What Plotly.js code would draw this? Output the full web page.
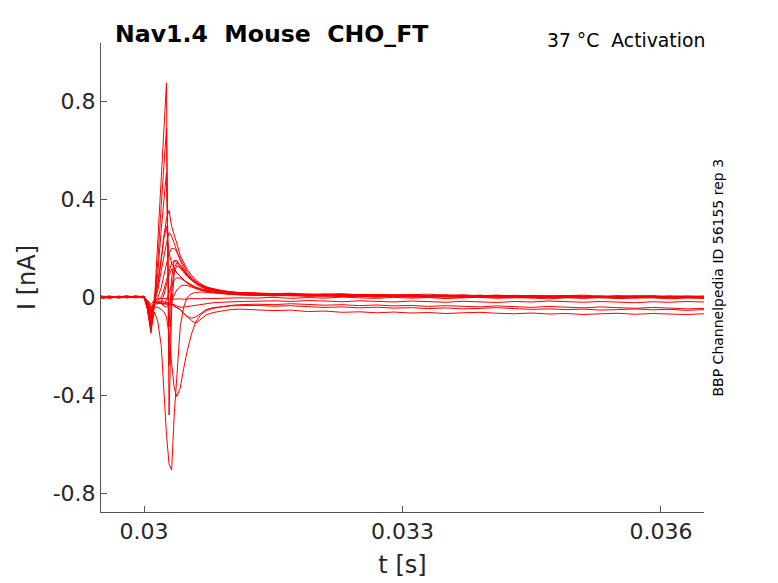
<!DOCTYPE html>
<html>
<head>
<meta charset="utf-8">
<script src="https://cdn.plot.ly/plotly-3.0.1.min.js"></script>
<style>html,body{margin:0;padding:0;background:#fff;}#plot{width:778px;height:583px;}</style>
</head>
<body>
<div id="plot"></div>
<script>
// time samples [s]
const t = [0.0295,0.0296,0.0297,0.0298,0.0299,0.0300,0.03004,0.03008,0.03012,0.03016,0.0302,0.03023,0.03026,0.03029,0.03032,0.03035,0.03038,0.03042,0.03046,0.0305,0.03055,0.0306,0.03066,0.03072,0.0308,0.0309,0.031,0.0311,
  0.0313,0.0315,0.0317,0.0319,0.0321,0.0323,0.0325,0.0327,0.0329,0.0331,0.0333,0.0335,0.0337,0.0339,0.0341,0.0343,0.0345,0.0347,0.0349,0.0351,0.0353,0.0355,0.0357,0.0359,0.0361,0.0363,0.0365];

// current traces [nA], one per voltage step
const sweepA = [0.004,-0.003,0.005,0.001,0.006,0.002,-0.05,-0.14,-0.02,0.23,0.5,0.7,0.875,-0.48,-0.05,0.1,0.13,0.12,0.1,0.085,0.07,0.058,0.047,0.04,0.032,0.025,0.02,0.018,
  0.015,0.012,0.014,0.01,0.011,0.008,0.012,0.006,0.009,0.004,0.007,0.01,0.005,0.006,0.003,0.008,0.004,0.002,0.006,0.003,0.005,0.001,0.004,0.002,0.006,0.003,0.004];
const sweepB = [-0.002,0.004,0.0,0.006,-0.001,0.003,-0.045,-0.13,-0.02,0.15,0.38,0.55,0.69,-0.28,0.02,0.12,0.14,0.125,0.105,0.09,0.074,0.06,0.05,0.042,0.034,0.027,0.022,0.019,
  0.017,0.013,0.015,0.011,0.013,0.009,0.01,0.012,0.007,0.009,0.006,0.008,0.005,0.009,0.004,0.006,0.007,0.003,0.005,0.004,0.002,0.006,0.003,0.005,0.001,0.004,0.003];
const sweepC = [0.006,0.001,0.003,-0.002,0.004,0.0,-0.04,-0.12,-0.015,0.1,0.28,0.4,0.51,-0.12,0.08,0.15,0.15,0.13,0.11,0.092,0.075,0.062,0.05,0.042,0.035,0.028,0.023,0.02,
  0.018,0.016,0.012,0.014,0.01,0.012,0.009,0.011,0.008,0.01,0.006,0.009,0.007,0.004,0.008,0.005,0.006,0.003,0.007,0.004,0.005,0.002,0.006,0.003,0.004,0.002,0.005];
const sweepD = [0.002,0.005,-0.002,0.003,0.001,0.004,-0.05,-0.147,-0.02,0.05,0.15,0.25,0.32,0.355,0.29,0.25,0.22,0.17,0.14,0.115,0.09,0.07,0.055,0.042,0.032,0.024,0.02,0.018,
  0.016,0.014,0.017,0.012,0.013,0.015,0.01,0.012,0.009,0.011,0.013,0.008,0.01,0.007,0.009,0.006,0.008,0.005,0.007,0.009,0.004,0.006,0.005,0.007,0.003,0.006,0.004];
const sweepE = [-0.003,0.002,0.004,0.0,0.003,-0.001,-0.035,-0.1,0.0,0.06,0.16,0.24,0.29,0.18,0.14,0.12,0.1,0.085,0.07,0.06,0.05,0.042,0.035,0.03,0.025,0.02,0.016,0.014,
  0.012,0.01,0.013,0.008,0.01,0.007,0.009,0.006,0.008,0.005,0.007,0.004,0.006,0.008,0.003,0.005,0.002,0.004,0.006,0.002,0.004,0.001,0.003,0.005,0.002,0.003,0.001];
const sweepF = [0.003,-0.001,0.002,0.005,0.0,0.002,-0.04,-0.11,-0.02,0.03,0.11,0.17,0.22,0.265,0.25,0.22,0.19,0.15,0.12,0.095,0.075,0.06,0.046,0.036,0.028,0.022,0.018,0.016,
  0.014,0.011,0.013,0.009,0.012,0.008,0.01,0.007,0.009,0.011,0.006,0.008,0.005,0.007,0.004,0.008,0.005,0.003,0.006,0.004,0.002,0.005,0.003,0.001,0.004,0.002,0.003];
const sweepG = [0.0,0.003,-0.003,0.002,0.004,0.001,-0.03,-0.09,-0.02,0.0,0.04,0.09,0.14,0.18,0.2,0.2,0.185,0.16,0.13,0.105,0.08,0.062,0.048,0.038,0.03,0.024,0.019,0.016,
  0.013,0.015,0.01,0.012,0.009,0.011,0.007,0.01,0.006,0.008,0.005,0.007,0.009,0.004,0.006,0.003,0.005,0.007,0.002,0.004,0.003,0.005,0.001,0.003,0.004,0.0,0.002];
const sweepH = [0.004,0.0,0.002,-0.002,0.003,0.005,-0.03,-0.08,-0.025,-0.01,0.0,0.03,0.07,0.11,0.14,0.15,0.145,0.13,0.11,0.09,0.07,0.055,0.042,0.034,0.027,0.021,0.017,0.014,
  0.012,0.009,0.011,0.007,0.01,0.006,0.008,0.005,0.009,0.004,0.006,0.003,0.007,0.005,0.002,0.004,0.006,0.001,0.003,0.005,0.002,0.0,0.003,0.001,0.004,0.002,0.0];
const sweepI = [-0.002,0.003,0.001,0.004,-0.001,0.002,-0.025,-0.07,-0.025,-0.02,-0.02,0.01,0.05,0.09,0.115,0.11,0.1,0.085,0.07,0.058,0.045,0.036,0.029,0.024,0.02,0.016,0.013,0.011,
  0.009,0.011,0.007,0.009,0.005,0.008,0.004,0.006,0.003,0.007,0.002,0.005,0.003,0.001,0.004,0.002,0.005,0.0,0.003,0.001,0.004,-0.001,0.002,0.0,0.003,-0.001,0.001];
const sweepJ = [0.001,-0.002,0.004,0.002,0.0,0.003,-0.02,-0.06,-0.02,-0.02,-0.025,-0.03,-0.01,0.02,0.05,0.07,0.08,0.078,0.07,0.06,0.05,0.04,0.032,0.026,0.021,0.017,0.014,0.012,
  0.01,0.007,0.009,0.005,0.008,0.004,0.006,0.002,0.005,0.003,0.001,0.004,0.002,0.0,0.003,0.001,-0.001,0.002,0.0,0.003,-0.001,0.001,-0.002,0.002,0.0,-0.001,0.001];
const sweepK = [0.003,0.001,-0.001,0.004,0.002,0.0,-0.018,-0.05,-0.02,-0.02,-0.025,-0.035,-0.04,-0.03,-0.01,0.01,0.03,0.045,0.05,0.048,0.042,0.036,0.03,0.025,0.02,0.016,0.013,0.011,
  0.009,0.006,0.008,0.004,0.006,0.003,0.005,0.001,0.004,0.002,0.0,0.003,-0.001,0.002,0.0,-0.002,0.001,-0.001,0.002,-0.002,0.0,-0.003,0.001,-0.001,-0.002,0.0,-0.003];
const sweepL = [-0.001,0.004,0.002,0.0,0.005,0.001,-0.05,-0.13,-0.06,-0.1,-0.2,-0.38,-0.56,-0.68,-0.705,-0.48,-0.32,-0.12,-0.04,0.0,0.015,0.02,0.022,0.02,0.017,0.014,0.012,0.01,
  0.008,0.01,0.006,0.008,0.005,0.007,0.003,0.006,0.004,0.002,0.005,0.001,0.003,0.0,0.004,0.001,-0.001,0.002,0.0,0.003,-0.002,0.001,-0.001,0.002,-0.002,0.0,-0.001];
const sweepM = [0.002,-0.002,0.003,0.005,0.0,0.003,-0.035,-0.1,-0.04,-0.04,-0.05,-0.06,-0.08,-0.15,-0.27,-0.37,-0.405,-0.37,-0.29,-0.22,-0.15,-0.1,-0.07,-0.055,-0.045,-0.038,-0.033,-0.03,
  -0.028,-0.03,-0.026,-0.029,-0.032,-0.03,-0.034,-0.031,-0.035,-0.033,-0.037,-0.034,-0.036,-0.039,-0.035,-0.038,-0.041,-0.037,-0.04,-0.043,-0.039,-0.042,-0.045,-0.041,-0.044,-0.047,-0.045];
const sweepN = [-0.003,0.001,0.004,0.0,0.002,-0.001,-0.025,-0.06,-0.03,-0.025,-0.025,-0.025,-0.03,-0.03,-0.03,-0.035,-0.04,-0.05,-0.065,-0.08,-0.095,-0.105,-0.09,-0.072,-0.062,-0.055,-0.05,-0.048,
  -0.05,-0.054,-0.052,-0.058,-0.056,-0.061,-0.059,-0.063,-0.06,-0.064,-0.062,-0.066,-0.063,-0.061,-0.065,-0.067,-0.064,-0.068,-0.066,-0.07,-0.067,-0.065,-0.069,-0.066,-0.068,-0.07,-0.067];
const sweepO = [0.002,0.005,0.0,0.003,0.001,0.004,-0.02,-0.05,-0.025,-0.02,-0.02,-0.025,-0.025,-0.03,-0.03,-0.035,-0.04,-0.05,-0.065,-0.078,-0.085,-0.08,-0.065,-0.05,-0.042,-0.038,-0.035,-0.034,
  -0.033,-0.036,-0.034,-0.038,-0.041,-0.039,-0.043,-0.04,-0.044,-0.042,-0.046,-0.043,-0.047,-0.045,-0.042,-0.046,-0.049,-0.047,-0.05,-0.048,-0.052,-0.05,-0.047,-0.051,-0.049,-0.053,-0.05];
const sweepP = [0.001,-0.003,0.002,0.004,-0.002,0.001,-0.015,-0.04,-0.02,-0.015,-0.015,-0.018,-0.02,-0.022,-0.025,-0.03,-0.035,-0.04,-0.04,-0.038,-0.035,-0.03,-0.027,-0.024,-0.022,-0.02,-0.018,-0.017,
  -0.016,-0.014,-0.017,-0.013,-0.015,-0.018,-0.014,-0.016,-0.019,-0.015,-0.017,-0.02,-0.016,-0.018,-0.021,-0.017,-0.019,-0.015,-0.018,-0.02,-0.017,-0.019,-0.022,-0.018,-0.02,-0.017,-0.019];
const sweepQ = [-0.004,0.0,0.003,-0.001,0.002,-0.003,-0.012,-0.03,-0.01,-0.005,-0.004,-0.006,-0.005,-0.007,-0.006,-0.008,-0.007,-0.006,-0.008,-0.006,-0.007,-0.005,-0.006,-0.004,-0.005,-0.003,-0.004,-0.002,
  -0.003,0.0,-0.004,-0.001,-0.003,0.001,-0.002,-0.004,0.0,-0.003,-0.001,-0.005,-0.002,0.0,-0.004,-0.001,-0.003,-0.006,-0.002,-0.004,-0.001,-0.005,-0.003,-0.002,-0.006,-0.003,-0.004];

const sweeps = [sweepQ, sweepP, sweepO, sweepN, sweepM, sweepL, sweepK, sweepJ, sweepI, sweepH, sweepG, sweepF, sweepE, sweepD, sweepC, sweepB, sweepA];

const xTickVals = [0.03, 0.033, 0.036];
const xTickText = ['0.03', '0.033', '0.036'];
const yTickVals = [-0.8, -0.4, 0, 0.4, 0.8];
const yTickText = ['-0.8', '-0.4', '0', '0.4', '0.8'];

const titleText = '<b>Nav1.4\u00a0\u00a0Mouse\u00a0\u00a0CHO_FT</b>';
const condText = '37\u00a0°C\u00a0\u00a0Activation';
const idText = 'BBP Channelpedia ID 56155 rep 3';

const FONT = 'DejaVu Sans, Verdana, sans-serif';
const data = sweeps.map(y => ({
  x: t, y: y, type: 'scatter', mode: 'lines',
  line: {color: '#ff0000', width: 1}, hoverinfo: 'skip', showlegend: false
}));

const layout = {
  width: 778, height: 583,
  margin: {l: 101, r: 74, t: 43, b: 71, pad: 0},
  paper_bgcolor: '#ffffff', plot_bgcolor: '#ffffff',
  font: {family: FONT, color: '#262626'},
  showlegend: false,
  title: {
    text: titleText,
    font: {family: FONT, size: 23.6, color: '#000000'},
    xref: 'container', yref: 'container',
    x: 115/778, xanchor: 'left',
    y: 1 - 34/583, yanchor: 'middle'
  },
  xaxis: {
    range: [0.0295, 0.0365],
    tickmode: 'array', tickvals: xTickVals, ticktext: xTickText,
    ticks: 'inside', ticklen: 6, tickcolor: '#555555', tickwidth: 1,
    showline: true, linecolor: '#555555', linewidth: 1, mirror: false,
    showgrid: false, zeroline: false,
    tickfont: {family: FONT, size: 22, color: '#262626'},
    title: {text: 't [s]', font: {family: FONT, size: 24, color: '#262626'}, standoff: 12}
  },
  yaxis: {
    range: [-0.876, 1.038],
    tickmode: 'array', tickvals: yTickVals, ticktext: yTickText,
    ticks: 'inside', ticklen: 6, tickcolor: '#555555', tickwidth: 1,
    showline: true, linecolor: '#555555', linewidth: 1, mirror: false,
    showgrid: false, zeroline: false,
    tickfont: {family: FONT, size: 22, color: '#262626'},
    title: {text: 'I [nA]', font: {family: FONT, size: 24, color: '#262626'}, standoff: 10}
  },
  annotations: [
    {text: condText, xref: 'paper', yref: 'paper', x: 1, y: 1, xanchor: 'right', yanchor: 'bottom',
     xshift: 3, yshift: -10, showarrow: false, font: {family: FONT, size: 18.8, color: '#000000'}},
    {text: idText, xref: 'paper', yref: 'paper', x: 1, y: 0.5, xanchor: 'left', yanchor: 'middle',
     xshift: 3, yshift: 0, textangle: -90, showarrow: false, font: {family: FONT, size: 14, color: '#000000'}}
  ]
};

Plotly.newPlot('plot', data, layout, {displayModeBar: false, staticPlot: true});
</script>
</body>
</html>
